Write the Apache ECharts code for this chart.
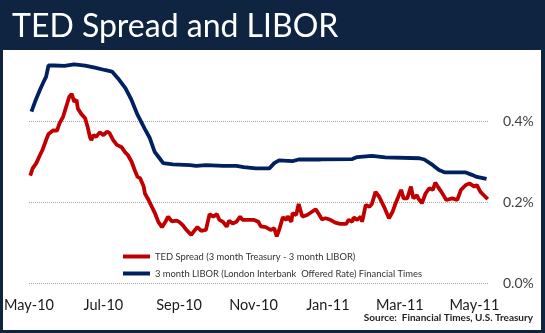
<!DOCTYPE html>
<html>
<head>
<meta charset="utf-8">
<script src="https://cdn.jsdelivr.net/npm/echarts@6/dist/echarts.min.js"></script>
<style>
  html, body { margin: 0; padding: 0; background: #0f2441; }
  #chart { width: 545px; height: 333px; }
</style>
</head>
<body>
<div id="chart"></div>
<script>
// TED spread and 3-month LIBOR, daily, May 2010 - May 2011 (percent)
const tedSpread = [
  ['2010-05-02',0.265],['2010-05-04',0.283],['2010-05-07',0.296],['2010-05-10',0.316],['2010-05-12',0.328],['2010-05-15',0.353],
  ['2010-05-17',0.368],['2010-05-21',0.377],['2010-05-24',0.376],['2010-05-26',0.394],['2010-05-29',0.411],['2010-05-31',0.431],
  ['2010-06-03',0.460],['2010-06-05',0.467],['2010-06-07',0.448],['2010-06-09',0.452],['2010-06-10',0.431],['2010-06-13',0.417],
  ['2010-06-16',0.407],['2010-06-18',0.386],['2010-06-20',0.360],['2010-06-21',0.353],['2010-06-23',0.365],['2010-06-25',0.361],
  ['2010-06-28',0.372],['2010-07-01',0.365],['2010-07-04',0.374],['2010-07-06',0.370],['2010-07-09',0.353],['2010-07-12',0.341],
  ['2010-07-16',0.335],['2010-07-19',0.322],['2010-07-21',0.316],['2010-07-24',0.300],['2010-07-27',0.276],['2010-07-29',0.262],
  ['2010-07-31',0.259],['2010-08-03',0.238],['2010-08-04',0.221],['2010-08-07',0.205],['2010-08-10',0.186],['2010-08-12',0.174],
  ['2010-08-15',0.151],['2010-08-18',0.138],['2010-08-21',0.152],['2010-08-23',0.164],['2010-08-26',0.152],['2010-08-30',0.154],
  ['2010-09-01',0.151],['2010-09-04',0.143],['2010-09-07',0.131],['2010-09-11',0.119],['2010-09-14',0.131],['2010-09-16',0.138],
  ['2010-09-19',0.129],['2010-09-23',0.131],['2010-09-26',0.170],['2010-09-29',0.164],['2010-10-02',0.170],['2010-10-04',0.156],
  ['2010-10-07',0.151],['2010-10-10',0.139],['2010-10-12',0.154],['2010-10-15',0.147],['2010-10-18',0.151],['2010-10-21',0.164],
  ['2010-10-23',0.156],['2010-11-01',0.156],['2010-11-05',0.151],['2010-11-07',0.140],['2010-11-11',0.138],['2010-11-15',0.131],
  ['2010-11-18',0.135],['2010-11-20',0.115],['2010-11-22',0.131],['2010-11-25',0.162],['2010-11-28',0.156],['2010-11-29',0.165],
  ['2010-12-02',0.151],['2010-12-03',0.172],['2010-12-06',0.168],['2010-12-08',0.195],['2010-12-11',0.164],['2010-12-15',0.168],
  ['2010-12-18',0.174],['2010-12-22',0.182],['2010-12-25',0.168],['2010-12-27',0.157],['2010-12-30',0.160],['2011-01-03',0.156],
  ['2011-01-07',0.149],['2011-01-11',0.146],['2011-01-16',0.146],['2011-01-18',0.156],['2011-01-21',0.151],['2011-01-22',0.162],
  ['2011-01-25',0.156],['2011-01-28',0.164],['2011-01-29',0.151],['2011-02-01',0.193],['2011-02-04',0.188],['2011-02-06',0.195],
  ['2011-02-09',0.225],['2011-02-12',0.213],['2011-02-16',0.188],['2011-02-20',0.160],['2011-02-23',0.176],['2011-02-25',0.193],
  ['2011-03-02',0.230],['2011-03-04',0.209],['2011-03-07',0.209],['2011-03-10',0.238],['2011-03-12',0.209],['2011-03-15',0.217],
  ['2011-03-16',0.209],['2011-03-19',0.197],['2011-03-22',0.221],['2011-03-25',0.234],['2011-03-28',0.230],['2011-03-30',0.248],
  ['2011-04-01',0.238],['2011-04-04',0.225],['2011-04-08',0.205],['2011-04-13',0.209],['2011-04-17',0.205],['2011-04-20',0.230],
  ['2011-04-24',0.242],['2011-04-27',0.246],['2011-05-01',0.238],['2011-05-03',0.242],['2011-05-06',0.225],['2011-05-10',0.213],
  ['2011-05-12',0.207]
];

const libor3m = [
  ['2010-05-03',0.423],['2010-05-06',0.448],['2010-05-10',0.477],['2010-05-13',0.497],['2010-05-15',0.509],['2010-05-17',0.537],
  ['2010-05-22',0.537],['2010-05-30',0.536],['2010-06-07',0.540],['2010-06-16',0.537],['2010-06-24',0.532],['2010-07-02',0.526],
  ['2010-07-08',0.522],['2010-07-13',0.505],['2010-07-19',0.481],['2010-07-24',0.452],['2010-07-29',0.415],['2010-08-04',0.380],
  ['2010-08-08',0.358],['2010-08-12',0.324],['2010-08-16',0.308],['2010-08-19',0.296],['2010-08-27',0.293],['2010-09-10',0.291],
  ['2010-09-15',0.289],['2010-09-23',0.291],['2010-10-07',0.289],['2010-10-18',0.289],['2010-10-24',0.286],['2010-11-03',0.283],
  ['2010-11-14',0.283],['2010-11-18',0.296],['2010-11-22',0.303],['2010-12-03',0.301],['2010-12-08',0.305],['2010-12-26',0.305],
  ['2011-01-21',0.306],['2011-01-25',0.311],['2011-02-06',0.314],['2011-02-17',0.310],['2011-03-17',0.308],['2011-03-21',0.305],
  ['2011-03-28',0.291],['2011-04-02',0.279],['2011-04-07',0.273],['2011-04-24',0.273],['2011-04-29',0.267],['2011-05-03',0.262],
  ['2011-05-11',0.257]
];

const seriesNames = [
  'TED Spread (3 month Treasury - 3 month LIBOR)',
  '3 month LIBOR (London Interbank  Offered Rate) Financial Times'
];

const monthTicks = ['2010-05-01','2010-07-01','2010-09-01','2010-11-01','2011-01-01','2011-03-01','2011-05-01'];
const axisStart = '2010-05-01';
const axisEnd = '2011-05-13';
const yTicks = [0, 0.2, 0.4];

const monthAbbr = ['Jan','Feb','Mar','Apr','May','Jun','Jul','Aug','Sep','Oct','Nov','Dec'];

function toTime(s) {
  const p = s.split('-').map(Number);
  return new Date(p[0], p[1] - 1, p[2]).getTime();
}
function monthLabel(t) {
  const d = new Date(t);
  return monthAbbr[d.getMonth()] + '-' + String(d.getFullYear()).slice(2);
}

const FONT = 'Lato, "Open Sans", sans-serif';
const chart = echarts.init(document.getElementById('chart'), null, { renderer: 'canvas' });

chart.setOption({
  backgroundColor: '#0f2441',
  animation: false,
  textStyle: { fontFamily: FONT },
  graphic: [
    { type: 'rect', z: -1, shape: { x: 3, y: 50, width: 538, height: 280 }, style: { fill: '#ffffff' } },
    { type: 'text', z: 10, left: 12, top: 11,
      style: { text: 'TED Spread and LIBOR', fill: '#ffffff', font: '32px ' + FONT } },
    { type: 'text', z: 10, right: 12, top: 313,
      style: { text: 'Source:  Financial Times, U.S. Treasury', fill: '#222222', font: 'bold 10px ' + FONT } }
  ],
  grid: { left: 29, right: 56, top: 40, bottom: 50 },
  legend: {
    orient: 'vertical', left: 118, top: 247,
    icon: 'rect', itemWidth: 27, itemHeight: 4, itemGap: 8,
    textStyle: { fontSize: 9.4, color: '#333333', fontFamily: FONT },
    data: seriesNames
  },
  xAxis: {
    type: 'value',
    min: toTime(axisStart), max: toTime(axisEnd),
    axisLine: { show: false },
    axisTick: { show: false },
    splitLine: { show: false },
    axisLabel: {
      customValues: monthTicks.map(toTime),
      formatter: v => monthLabel(v),
      color: '#1a1a1a', fontSize: 14.5, margin: 15, fontFamily: FONT
    }
  },
  yAxis: {
    type: 'value', position: 'right',
    min: 0, max: 0.6, interval: 0.2,
    axisLine: { show: false },
    axisTick: { show: false },
    axisLabel: {
      customValues: yTicks,
      formatter: v => v.toFixed(1) + '%',
      color: '#404040', fontSize: 14, margin: 14, fontFamily: FONT
    },
    splitLine: { show: true, showMaxLine: false, lineStyle: { color: '#a6a6a6', type: [1, 1], width: 1 } }
  },
  series: [
    {
      name: seriesNames[0], type: 'line', showSymbol: false, symbol: 'none',
      data: tedSpread.map(p => [toTime(p[0]), p[1]]),
      lineStyle: { color: '#c00000', width: 3.8 }, itemStyle: { color: '#c00000' }
    },
    {
      name: seriesNames[1], type: 'line', showSymbol: false, symbol: 'none',
      data: libor3m.map(p => [toTime(p[0]), p[1]]),
      lineStyle: { color: '#002060', width: 3.8 }, itemStyle: { color: '#002060' }
    }
  ]
});
</script>
</body>
</html>
